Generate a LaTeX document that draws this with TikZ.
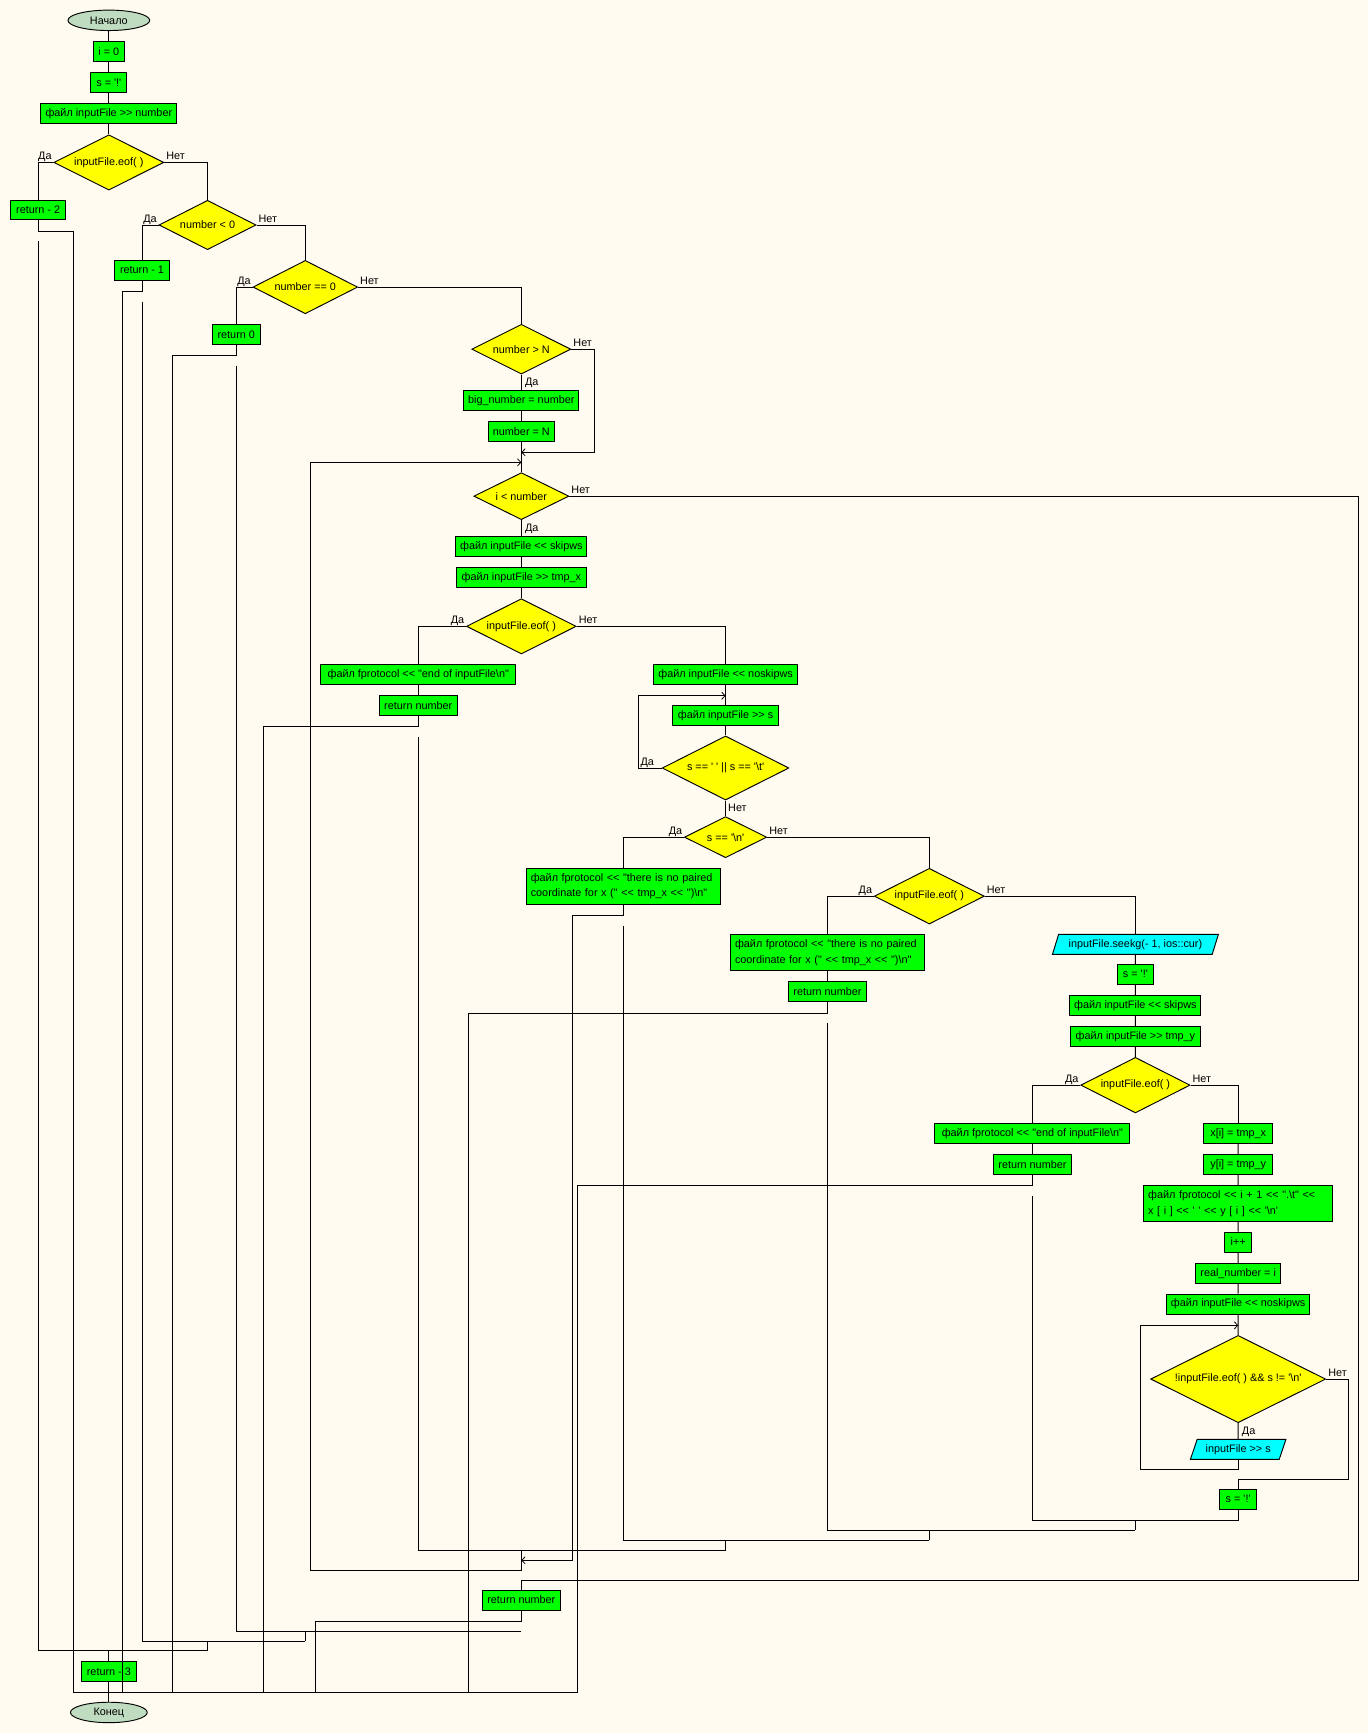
\documentclass[tikz,border=0pt]{standalone}
\usepackage{fontspec}
\newfontfamily\flowfont{Liberation Sans}
\usetikzlibrary{shapes.geometric,arrows.meta}
\definecolor{paper}{HTML}{FFFBF0}
\definecolor{procgreen}{HTML}{00FF00}
\definecolor{askyellow}{HTML}{FFFF00}
\definecolor{iocyan}{HTML}{00FFFF}
\definecolor{termgray}{HTML}{C0DCC0}
\begin{document}
\begin{tikzpicture}[x=1pt,y=-1pt,line width=0.85pt,
  every node/.style={font=\flowfont\fontsize{9.8}{14}\selectfont},
  term/.style={ellipse,draw,fill=termgray,inner sep=0pt,minimum width=74pt,minimum height=18.5pt},
  proc/.style={draw,fill=procgreen,inner xsep=3pt,inner ysep=1pt,minimum height=18pt,minimum width=#1},
  proc/.default=20pt,
  proc2/.style 2 args={proc=#1,text width=#2,align=left,inner xsep=4pt,minimum height=32.5pt},
  ask/.style 2 args={diamond,shape aspect=2,draw,fill=askyellow,inner sep=0pt,minimum width=#1,minimum height=#2},
  io/.style={trapezium,trapezium left angle=66,trapezium right angle=114,trapezium stretches=true,
    draw,fill=iocyan,inner sep=1pt,minimum height=18pt,minimum width=#1},
  lblL/.style={anchor=base east,inner sep=0pt,xshift=-1.2pt,yshift=2.5pt},
  lblR/.style={anchor=base west,inner sep=0pt,xshift=1.5pt,yshift=2.5pt},
  lblD/.style={anchor=base west,inner sep=0pt,xshift=3pt,yshift=-10pt},
  jump/.style={-{Straight Barb[length=3pt,width=6.5pt,line width=0.7pt]}}]
\path[use as bounding box,fill=paper] (0,0) rectangle (1238,1568.3);

% start and the checks of number
\node[term] (start) at (98.5,18.4) {Начало};
\node[proc=28pt] (i0) at (98.5,46.5) {i = 0};
\node[proc=32.5pt] (s0) at (98.5,74.8) {s = '!'};
\node[proc=123pt] (rdnum) at (98.5,102.7) {файл inputFile >> number};
\node[ask={99.5pt}{50pt}] (eofA) at (98.5,147) {inputFile.eof( )};
\node[proc=49.5pt] (ret2) at (34.5,190) {return - 2};
\node[ask={87.8pt}{44.7pt}] (neg) at (187.8,203.6) {number < 0};
\node[proc=49.8pt] (ret1) at (128.5,244.6) {return - 1};
\node[ask={94.7pt}{48.3pt}] (zero) at (276.3,259.8) {number == 0};
\node[proc=43pt] (ret0) at (213.8,302.6) {return 0};
\node[ask={89.6pt}{45pt}] (bigN) at (471.8,316) {number > N};
\node[proc=104pt] (bignum) at (471.8,362.4) {big\_number = number};
\node[proc=59.5pt] (numN) at (471.8,390.5) {number = N};

% main loop
\node[ask={86pt}{42.5pt}] (loop) at (471.8,449) {i < number};
\node[proc=118.6pt] (skipws) at (471.8,494.4) {файл inputFile << skipws};
\node[proc=117.6pt] (rdx) at (471.8,522.4) {файл inputFile >> tmp\_x};
\node[ask={99.3pt}{50pt}] (eofB) at (471.8,566.8) {inputFile.eof( )};
\node[proc=176.8pt] (eofmsgA) at (378.5,610.6) {файл fprotocol << "end of inputFile\textbackslash n"};
\node[proc=70.6pt] (retA) at (378.5,638.3) {return number};
\node[proc=129.8pt] (noskipA) at (656.6,610.6) {файл inputFile << noskipws};
\node[proc=95.4pt] (rds) at (656.6,647.3) {файл inputFile >> s};
\node[ask={114.6pt}{58pt}] (blank) at (656.6,695) {s == ' ' || s == '\textbackslash t'};
\node[ask={74.5pt}{37.2pt}] (eol) at (656.6,757.6) {s == '\textbackslash n'};
\node[proc2={175.9pt}{167.9pt}] (nopairA) at (564.3,802.1) {файл fprotocol << "there is no paired\\coordinate for x (" << tmp\_x << ")\textbackslash n"};
\node[ask={99.5pt}{50.4pt}] (eofC) at (841,811) {inputFile.eof( )};
\node[proc2={175.3pt}{167.3pt}] (nopairB) at (748.8,862) {файл fprotocol << "there is no paired\\coordinate for x (" << tmp\_x << ")\textbackslash n"};
\node[proc=70.6pt] (retB) at (748.8,897.3) {return number};
\node[io=150.3pt] (seek) at (1027.5,854.6) {inputFile.seekg(- 1, ios::cur)};
\node[proc=32.5pt] (s1) at (1027.5,881.7) {s = '!'};
\node[proc=118.6pt] (skipwsB) at (1027.5,909.8) {файл inputFile << skipws};
\node[proc=117.7pt] (rdy) at (1027.5,937.8) {файл inputFile >> tmp\_y};
\node[ask={98.9pt}{50.3pt}] (eofD) at (1027.5,982) {inputFile.eof( )};
\node[proc=176.5pt] (eofmsgB) at (934.3,1025.6) {файл fprotocol << "end of inputFile\textbackslash n"};
\node[proc=70.6pt] (retC) at (934.3,1053.7) {return number};
\node[proc=62.4pt] (xi) at (1120.5,1025.6) {x[i] = tmp\_x};
\node[proc=62.4pt] (yi) at (1120.5,1053.7) {y[i] = tmp\_y};
\node[proc2={171pt}{163pt}] (prot) at (1120.5,1089.1) {файл fprotocol << i + 1 << ".\textbackslash t" <<\\x [ i ] << ' ' << y [ i ] << '\textbackslash n'};
\node[proc=24.4pt] (inc) at (1120.5,1124) {i++};
\node[proc=77pt] (real) at (1120.5,1152.2) {real\_number = i};
\node[proc=129.4pt] (noskipB) at (1120.5,1180.1) {файл inputFile << noskipws};
\node[ask={158.4pt}{79pt}] (cond) at (1120.5,1248) {!inputFile.eof( ) \&\& s != '\textbackslash n'};
\node[io=86.6pt] (rdsB) at (1120.5,1311.6) {inputFile >> s};
\node[proc=33pt] (s2) at (1120.5,1356.8) {s = '!'};

% after the loop
\node[proc=70.2pt] (retD) at (471.8,1448) {return number};
\node[proc=50pt] (ret3) at (98.5,1513) {return - 3};
\node[term,minimum width=69.5pt] (stop) at (98.5,1549.7) {Конец};

% Da / Net
\node[lblL] (yA) at (eofA.west) {Да};
\node[lblR] (nA) at (eofA.east) {Нет};
\node[lblL] (yB) at (neg.west) {Да};
\node[lblR] (nB) at (neg.east) {Нет};
\node[lblL] (yC) at (zero.west) {Да};
\node[lblR] (nC) at (zero.east) {Нет};
\node[lblD] (yD) at (bigN.south) {Да};
\node[lblR] (nD) at (bigN.east) {Нет};
\node[lblD] (yE) at (loop.south) {Да};
\node[lblR] (nE) at (loop.east) {Нет};
\node[lblL] (yF) at (eofB.west) {Да};
\node[lblR] (nF) at (eofB.east) {Нет};
\node[lblL,xshift=-5.5pt] (yG) at (blank.west) {Да};
\node[lblD,xshift=-1pt] (nG) at (blank.south) {Нет};
\node[lblL] (yH) at (eol.west) {Да};
\node[lblR] (nH) at (eol.east) {Нет};
\node[lblL] (yI) at (eofC.west) {Да};
\node[lblR] (nI) at (eofC.east) {Нет};
\node[lblL] (yJ) at (eofD.west) {Да};
\node[lblR] (nJ) at (eofD.east) {Нет};
\node[lblD] (yK) at (cond.south) {Да};
\node[lblR] (nK) at (cond.east) {Нет};

% points of the lines
\coordinate (bA) at (66.3,1531.5);
\coordinate (bB) at (111,1531.5);
\coordinate (bC) at (156,1531.5);
\coordinate (bD) at (238.4,1531.5);
\coordinate (bE) at (285.6,1531.5);
\coordinate (bF) at (424,1531.5);
\coordinate (bG) at (522.8,1531.5);
\coordinate (bigIn) at (471.8,409.3);
\coordinate (loopIn) at (471.8,418.4);
\coordinate (back) at (281.2,1421);
\coordinate (cont) at (518.3,1412);
\coordinate (outR) at (1229.5,1430);
\coordinate (rdsIn) at (656.6,629.6);
\coordinate (condIn) at (1120.5,1199.4);
\coordinate (condBack) at (1032,1329.7);
\coordinate (condOut) at (1120.5,1338.8);
\coordinate (jD) at (0,1376);
\coordinate (jC) at (0,1385);
\coordinate (jE) at (0,1394);
\coordinate (jB) at (0,1403);
\coordinate (jZero) at (0,1476);
\coordinate (jNeg) at (0,1485);
\coordinate (jEof) at (0,1494);

% straight runs
\draw (start) -- (i0) -- (s0) -- (rdnum) -- (eofA);
\draw (bigN) -- (bignum) -- (numN) -- (loop) -- (skipws) -- (rdx) -- (eofB);
\draw (eofmsgA) -- (retA);
\draw (noskipA) -- (rds) -- (blank) -- (eol);
\draw (nopairB) -- (retB);
\draw (seek) -- (s1) -- (skipwsB) -- (rdy) -- (eofD);
\draw (eofmsgB) -- (retC);
\draw (xi) -- (yi) -- (prot) -- (inc) -- (real) -- (noskipB) -- (cond) -- (rdsB);
\draw (ret3) -- (stop);

% branches
\draw (eofA.west) -| (ret2.north);
\draw (eofA.east) -| (neg.north);
\draw (neg.west) -| (ret1.north);
\draw (neg.east) -| (zero.north);
\draw (zero.west) -| (ret0.north);
\draw (zero.east) -| (bigN.north);
\draw (eofB.west) -| (eofmsgA.north);
\draw (eofB.east) -| (noskipA.north);
\draw (eol.west) -| (nopairA.north);
\draw (eol.east) -| (eofC.north);
\draw (eofC.west) -| (nopairB.north);
\draw (eofC.east) -| (seek.north);
\draw (eofD.west) -| (eofmsgB.north);
\draw (eofD.east) -| (xi.north);
\draw (cond.east) -- ++(20.5,0) |- (condOut) -- (s2.north);
\draw (loop.east) -| (outR) -| (retD.north);

% back arrows
\draw[jump] (bigN.east) -- ++(20.5,0) |- (bigIn);
\draw[jump] (blank.west) -- ++(-20.8,0) |- (rdsIn);
\draw[jump] (rdsB.south) |- (condBack) |- (condIn);
\draw[jump] (nopairA.south) -- ++(0,9.6) -| (cont) -- (cont -| eofB);
\draw[jump] (jB -| eofB) |- (back) |- (loopIn);

% returns to the end
\draw (ret2.south) -- ++(0,10) -| (bA);
\draw (ret1.south) -- ++(0,10) -| (bB);
\draw (ret0.south) -- ++(0,10) -| (bC);
\draw (retA.south) -- ++(0,10) -| (bD);
\draw (retD.south) -- ++(0,10) -| (bE);
\draw (retB.south) -- ++(0,10.2) -| (bF);
\draw (retC.south) -- ++(0,10) -| (bG);
\draw (bA) -- (bG);

% joins
\draw (s2.south) -- (s2 |- jD);
\draw ([yshift=-19pt]retC.south) |- (jD -| s2);
\draw (jD -| eofD) -- (jC -| eofD);
\draw ([yshift=-19pt]retB.south) |- (jC -| eofD);
\draw (jC -| eofC) -- (jE -| eofC);
\draw ([yshift=-19pt]nopairA.south) |- (jE -| eofC);
\draw (jE -| eol) -- (jB -| eol);
\draw ([yshift=-19pt]retA.south) |- (jB -| eol);
\draw ([yshift=-19pt]ret0.south) |- (jZero -| bigN);
\draw (jZero -| zero) -- (jNeg -| zero);
\draw ([yshift=-19pt]ret1.south) |- (jNeg -| zero);
\draw (jNeg -| neg) -- (jEof -| neg);
\draw ([yshift=-19pt]ret2.south) |- (jEof -| neg);
\draw (jEof -| eofA) -- (ret3.north);
\end{tikzpicture}
\end{document}
